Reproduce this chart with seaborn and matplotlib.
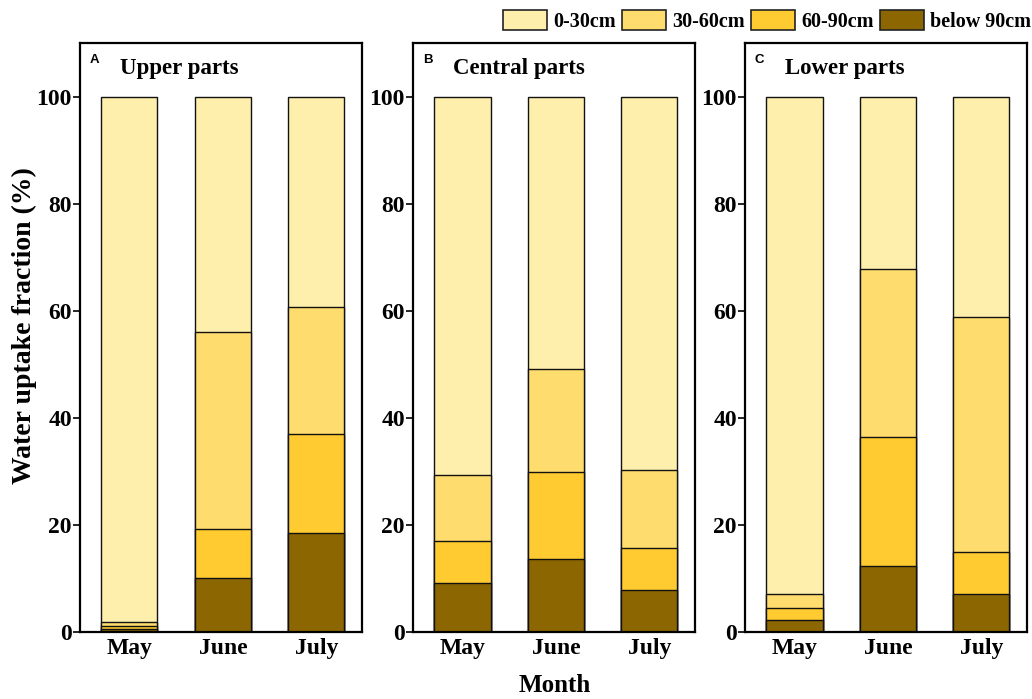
import numpy as np
import pandas as pd
import matplotlib
matplotlib.use("Agg")
import matplotlib.pyplot as plt
from matplotlib.patches import Patch
import seaborn as sns

sns.set_theme(style="white")
plt.rcParams["font.family"] = ["Liberation Serif", "DejaVu Serif"]
plt.rcParams["font.weight"] = "bold"
plt.rcParams["text.color"] = "black"
plt.rcParams["axes.labelcolor"] = "black"

months = ["May", "June", "July"]
layers = ["0-30cm", "30-60cm", "60-90cm", "below 90cm"]
colors = ["#FFEFAD", "#FFDC6E", "#FFCB30", "#8C6600"]
panel_letters = ["A", "B", "C"]
panel_titles = ["Upper parts", "Central parts", "Lower parts"]

# Layer fractions (%) per month
upper_below90 = [0.6, 10.1, 18.5]
upper_60_90 = [0.6, 9.2, 18.5]
upper_30_60 = [0.6, 36.8, 23.6]
upper_0_30 = [98.2, 43.9, 39.4]

central_below90 = [9.2, 13.6, 7.9]
central_60_90 = [7.8, 16.3, 7.8]
central_30_60 = [12.3, 19.3, 14.6]
central_0_30 = [70.7, 50.8, 69.7]

lower_below90 = [2.2, 12.3, 7.1]
lower_60_90 = [2.3, 24.1, 7.9]
lower_30_60 = [2.6, 31.3, 43.9]
lower_0_30 = [92.9, 32.3, 41.1]

panels = [
    [upper_0_30, upper_30_60, upper_60_90, upper_below90],
    [central_0_30, central_30_60, central_60_90, central_below90],
    [lower_0_30, lower_30_60, lower_60_90, lower_below90],
]

fig = plt.figure(figsize=(10.32, 6.99), dpi=100)
lefts = [0.0775, 0.4002, 0.7219]
bottom, width, height = 0.0959, 0.2733, 0.8426

for i, (vals, left) in enumerate(zip(panels, lefts)):
    ax = fig.add_axes([left, bottom, width, height])
    # stacked bars: cumulative totals, drawn from the tallest down
    stack = np.array(vals[::-1])          # deepest layer first
    cum = np.cumsum(stack, axis=0)
    layer_colors = colors[::-1]
    for k in range(len(layers) - 1, -1, -1):
        df = pd.DataFrame({"Month": months, "val": cum[k]})
        sns.barplot(data=df, x="Month", y="val", color=layer_colors[k],
                    width=0.6, edgecolor="#111111", linewidth=1.0,
                    saturation=1, ax=ax)
    ax.set_ylim(0, 110)
    ax.set_xlim(-0.53, 2.49)
    ax.set_yticks([0, 20, 40, 60, 80, 100])
    ax.set_xlabel("")
    ax.set_ylabel("")
    for s in ax.spines.values():
        s.set_visible(True)
        s.set_color("black")
        s.set_linewidth(1.6)
    ax.tick_params(axis="y", direction="out", length=5, width=1.2,
                   left=True, labelsize=17, pad=0.8, colors="black")
    ax.tick_params(axis="x", direction="in", length=3.5, width=1.2,
                   bottom=True, labelsize=17, pad=4, colors="black")
    for lab in ax.get_xticklabels() + ax.get_yticklabels():
        lab.set_fontweight("bold")
    ax.text(0.035, 0.981, panel_letters[i], transform=ax.transAxes,
            family=["Liberation Sans", "DejaVu Sans"], fontweight="bold",
            fontsize=9.5, va="top", ha="left", color="black")
    ax.text(0.143, 0.975, panel_titles[i], transform=ax.transAxes,
            fontweight="bold", fontsize=16.5, va="top", ha="left",
            color="black")
    if i == 0:
        ax.set_ylabel("Water uptake fraction (%)", fontsize=20,
                      fontweight="bold", color="black")
        ax.yaxis.set_label_coords(-0.152, 0.521)

fig.text(0.538, 0.003, "Month", ha="center", va="bottom",
         fontsize=18, fontweight="bold", color="black")

handles = [Patch(facecolor=c, edgecolor="#222222", linewidth=1.2) for c in colors]
fig.legend(handles, layers, loc="upper right", bbox_to_anchor=(1.017, 1.012),
           ncol=4, frameon=False, handlelength=2.2, handleheight=1.15,
           handletextpad=0.3, columnspacing=0.3, labelcolor="black",
           prop={"weight": "bold", "size": 14.5})

fig.savefig("out.png", dpi=100)
